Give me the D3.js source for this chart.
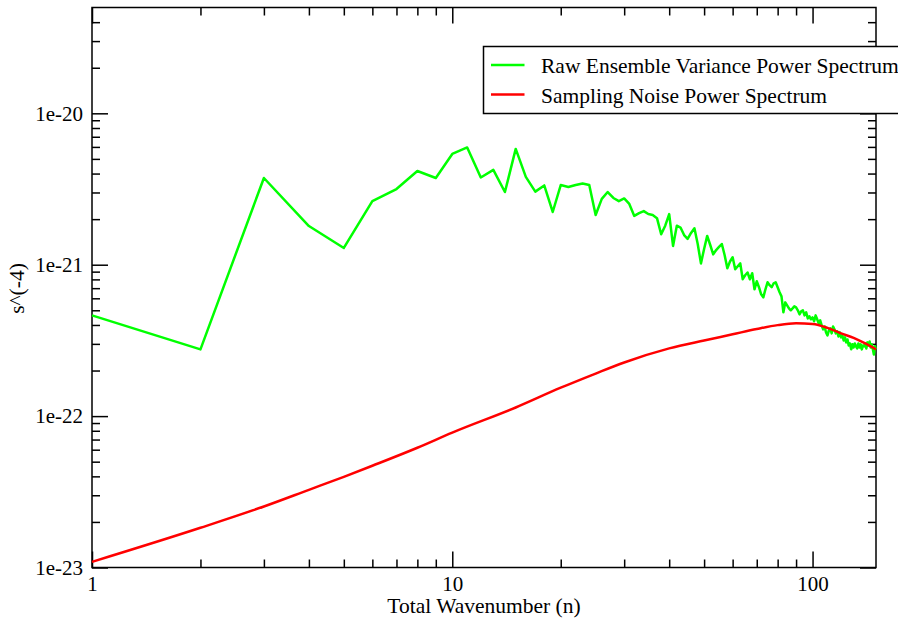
<!DOCTYPE html>
<html>
<head>
<meta charset="utf-8">
<script src="https://cdn.jsdelivr.net/npm/d3@7"></script>
<style>
  body { margin: 0; background: #fff; }
</style>
</head>
<body>
<div id="chart-area"></div>
<script>

// total wavenumber n = 1..150
var wavenumber = d3.range(1, 151);

// raw ensemble variance power spectrum, one value per n
var rawVariance = [
  4.63e-22, 2.76e-22, 3.74e-21, 1.80e-21, 1.29e-21, 2.63e-21, 3.16e-21, 4.16e-21, 3.74e-21, 5.39e-21,
  5.95e-21, 3.77e-21, 4.23e-21, 3.02e-21, 5.82e-21, 3.80e-21, 3.04e-21, 3.34e-21, 2.23e-21, 3.36e-21,
  3.26e-21, 3.36e-21, 3.44e-21, 3.36e-21, 2.13e-21, 2.72e-21, 3.02e-21, 2.76e-21, 2.63e-21, 2.74e-21,
  2.52e-21, 2.10e-21, 2.19e-21, 2.26e-21, 2.16e-21, 2.13e-21, 2.03e-21, 1.59e-21, 1.81e-21, 2.16e-21,
  1.33e-21, 1.81e-21, 1.76e-21, 1.57e-21, 1.48e-21, 1.62e-21, 1.74e-21, 1.37e-21, 1.02e-21, 1.27e-21,
  1.55e-21, 1.35e-21, 1.17e-21, 1.25e-21, 1.31e-21, 1.37e-21, 1.16e-21, 9.48e-22, 1.05e-21, 1.12e-21,
  9.34e-22, 9.77e-22, 1.02e-21, 8.02e-22, 8.52e-22, 8.88e-22, 8.02e-22, 8.78e-22, 6.88e-22, 7.78e-22,
  7.10e-22, 6.38e-22, 6.09e-22, 6.88e-22, 7.66e-22, 7.32e-22, 7.10e-22, 7.54e-22, 7.66e-22, 7.10e-22,
  6.58e-22, 6.18e-22, 4.85e-22, 5.64e-22, 5.39e-22, 5.15e-22, 5.00e-22, 5.15e-22, 5.31e-22, 5.23e-22,
  5.00e-22, 4.70e-22, 4.92e-22, 5.00e-22, 4.63e-22, 4.85e-22, 4.42e-22, 4.56e-22, 4.36e-22, 4.49e-22,
  4.23e-22, 4.63e-22, 4.36e-22, 4.10e-22, 4.29e-22, 3.97e-22, 3.74e-22, 3.91e-22, 3.57e-22, 3.41e-22,
  3.68e-22, 3.80e-22, 3.52e-22, 3.91e-22, 3.74e-22, 3.52e-22, 3.63e-22, 3.36e-22, 3.57e-22, 3.31e-22,
  3.41e-22, 3.16e-22, 3.31e-22, 3.07e-22, 3.21e-22, 2.93e-22, 3.02e-22, 2.76e-22, 2.98e-22, 2.84e-22,
  3.02e-22, 2.89e-22, 2.80e-22, 3.02e-22, 2.84e-22, 2.98e-22, 2.76e-22, 2.93e-22, 2.89e-22, 3.02e-22,
  2.80e-22, 3.07e-22, 2.93e-22, 3.11e-22, 2.84e-22, 2.98e-22, 2.76e-22, 2.55e-22, 2.89e-22, 2.76e-22
];

// sampling noise power spectrum (smooth curve, read at these n)
var noiseN   = [1, 2, 3, 4, 5, 6, 8, 10, 15, 20, 25, 30, 40, 50, 60, 70, 80, 90, 100, 110, 120, 130, 140, 150];
var noiseVal = [1.09e-23, 1.83e-23, 2.53e-23, 3.26e-23, 3.97e-23, 4.70e-23, 6.18e-23, 7.78e-23,
                1.14e-22, 1.54e-22, 1.91e-22, 2.26e-22, 2.80e-22, 3.16e-22, 3.47e-22, 3.76e-22,
                3.99e-22, 4.10e-22, 4.06e-22, 3.83e-22, 3.52e-22, 3.29e-22, 3.02e-22, 2.76e-22];

var seriesNames  = ["Raw Ensemble Variance Power Spectrum", "Sampling Noise Power Spectrum"];
var seriesColors = ["#00ff00", "#ff0000"];

var xMajor = [1, 10, 100];
var xMinor = [2, 3, 4, 5, 6, 7, 8, 9, 20, 30, 40, 50, 60, 70, 80, 90];
var yMajor = [1e-23, 1e-22, 1e-21, 1e-20];
var yMajorLabels = ["1e-23", "1e-22", "1e-21", "1e-20"];

var FONT = "Liberation Serif";

var total_width = 898;
var total_height = 620;
var margin = {top: 7.5, right: 22, bottom: 52.5, left: 92};
var width = total_width - margin.left - margin.right;
var height = total_height - margin.top - margin.bottom;

var svg = d3.select('#chart-area').append('svg')
            .attr("width", total_width)
            .attr("height", total_height)
            .attr("font-family", FONT);

var chart = svg.append('g')
               .attr("transform", "translate(" + margin.left + "," + margin.top + ")");

var x = d3.scaleLog().domain([1, 150]).range([0, width]);
var y = d3.scaleLog().domain([1e-23, 5e-20]).range([height, 0]);

var yMinor = [];
yMajor.forEach(function(p){
  for (var k = 2; k <= 9; k++) {
    var v = +(k * p).toPrecision(3);
    if (v < 5e-20) yMinor.push(v);
  }
});

function styleAxis(g){
  g.attr("font-family", FONT).attr("font-size", 21);
  g.select(".domain").remove();
  g.selectAll(".tick line").attr("stroke", "#000").attr("stroke-width", 1.5);
  g.selectAll(".tick text").attr("fill", "#000")
   .attr("font-family", FONT).attr("font-size", 21);
}

// bottom / left with labels, top / right mirrored ticks, all pointing inward
chart.append('g').attr("transform", "translate(0," + height + ")")
     .call(d3.axisBottom(x).tickValues(xMajor).tickSize(-16).tickPadding(9)
            .tickFormat(d3.format("d")))
     .call(styleAxis);
chart.append('g').attr("transform", "translate(0," + height + ")")
     .call(d3.axisBottom(x).tickValues(xMinor).tickSize(-8).tickFormat(""))
     .call(styleAxis);
chart.append('g')
     .call(d3.axisTop(x).tickValues(xMajor).tickSize(-16).tickFormat(""))
     .call(styleAxis);
chart.append('g')
     .call(d3.axisTop(x).tickValues(xMinor).tickSize(-8).tickFormat(""))
     .call(styleAxis);

chart.append('g')
     .call(d3.axisLeft(y).tickValues(yMajor).tickSize(-16).tickPadding(9)
            .tickFormat(function(d, i){ return yMajorLabels[i]; }))
     .call(styleAxis);
chart.append('g')
     .call(d3.axisLeft(y).tickValues(yMinor).tickSize(-8).tickFormat(""))
     .call(styleAxis);
chart.append('g').attr("transform", "translate(" + width + ",0)")
     .call(d3.axisRight(y).tickValues(yMajor).tickSize(-16).tickFormat(""))
     .call(styleAxis);
chart.append('g').attr("transform", "translate(" + width + ",0)")
     .call(d3.axisRight(y).tickValues(yMinor).tickSize(-8).tickFormat(""))
     .call(styleAxis);

chart.append('rect')
     .attr("width", width).attr("height", height)
     .attr("fill", "none").attr("stroke", "#000").attr("stroke-width", 1.5);

// lines
var rawData = wavenumber.map(function(n, i){ return {n: n, v: rawVariance[i]}; });
var noiseData = noiseN.map(function(n, i){ return {n: n, v: noiseVal[i]}; });

var line = d3.line().x(function(d){ return x(d.n); }).y(function(d){ return y(d.v); });

chart.append('path').datum(rawData)
     .attr("d", line)
     .attr("fill", "none").attr("stroke", seriesColors[0])
     .attr("stroke-width", 2.5).attr("stroke-linejoin", "round");

chart.append('path').datum(noiseData)
     .attr("d", line.curve(d3.curveMonotoneX))
     .attr("fill", "none").attr("stroke", seriesColors[1])
     .attr("stroke-width", 2.5).attr("stroke-linejoin", "round");

// axis titles
svg.append('text')
   .attr("x", margin.left + width / 2).attr("y", 613)
   .attr("text-anchor", "middle")
   .attr("font-family", FONT).attr("font-size", 21.5)
   .text("Total Wavenumber (n)");

svg.append('text')
   .attr("transform", "translate(23.5," + (margin.top + height / 2 + 1) + ") rotate(-90)")
   .attr("text-anchor", "middle")
   .attr("font-family", FONT).attr("font-size", 21.5)
   .text("s^(-4)");

// legend (runs off the right edge like the original)
var legend = svg.append('g').attr("transform", "translate(483.5,46.5)");
legend.append('rect')
      .attr("width", 450).attr("height", 67)
      .attr("fill", "#fff").attr("stroke", "#000").attr("stroke-width", 1.5);

seriesNames.forEach(function(name, i){
  var ly = 18.5 + i * 29.5;
  legend.append('line')
        .attr("x1", 7.5).attr("x2", 41).attr("y1", ly).attr("y2", ly)
        .attr("stroke", seriesColors[i]).attr("stroke-width", 2.5);
  legend.append('text')
        .attr("x", 57.5).attr("y", ly + 8)
        .attr("font-family", FONT).attr("font-size", 21.5)
        .text(name);
});

</script>
</body>
</html>
